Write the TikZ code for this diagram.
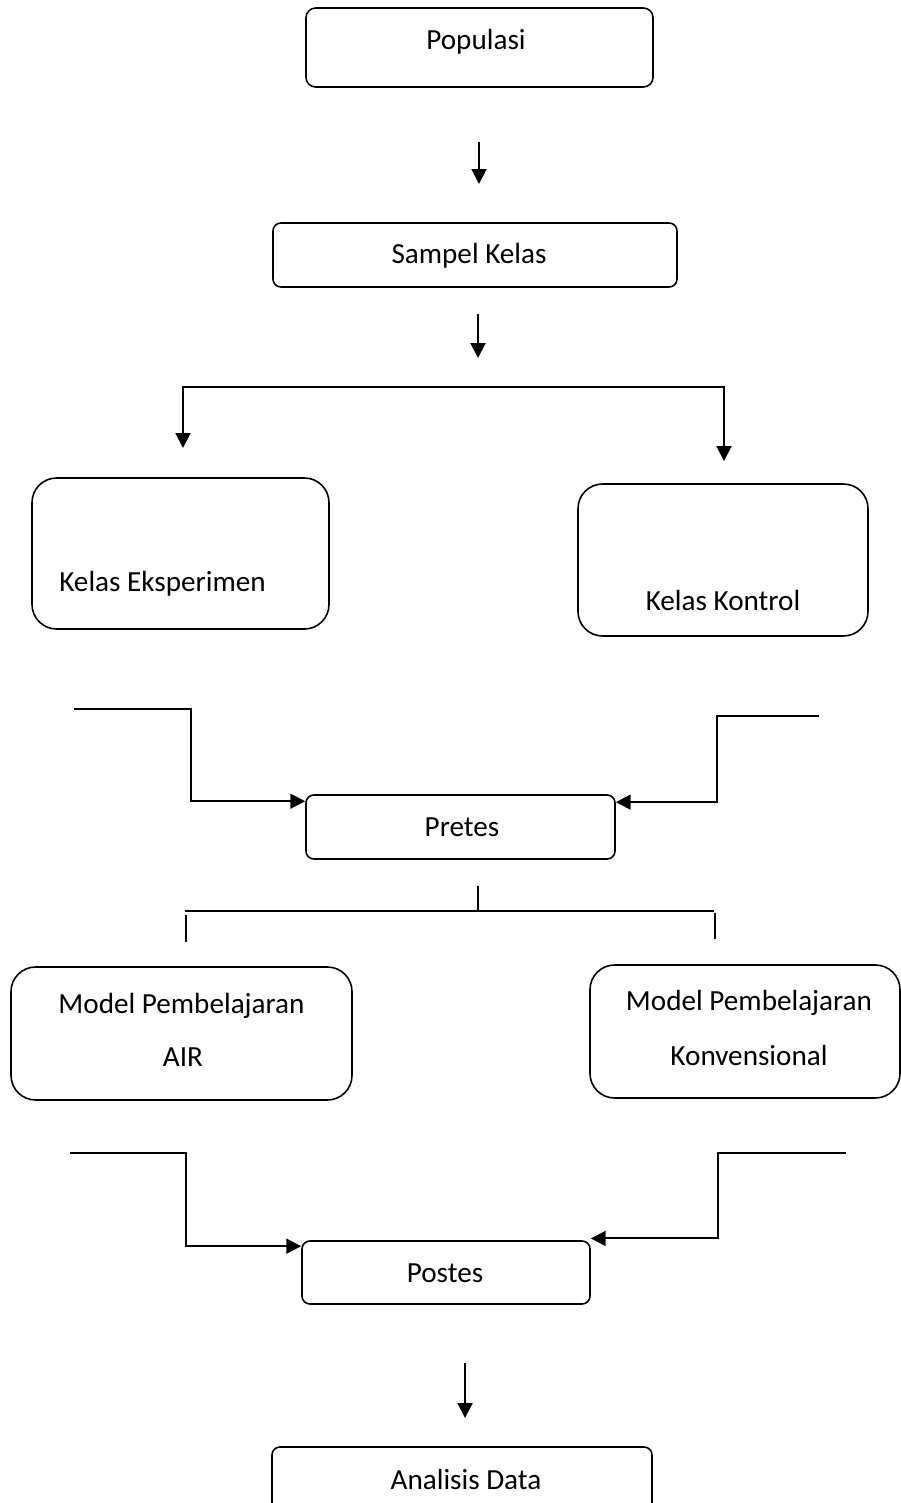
\documentclass[tikz,border=0pt]{standalone}
\usepackage{fontspec}
\setmainfont{Carlito}
\usetikzlibrary{arrows.meta}

\newcommand{\px}{0.02cm}

\tikzset{
  box/.style 2 args={draw, line width=0.9pt, rounded corners=4.5pt, inner sep=0pt,
    minimum width=#1*\px, minimum height=#2*\px},
  lbl/.style={anchor=base, inner sep=0pt, font=\fontsize{16.6}{19}\selectfont},
  conn/.style={line width=1.15pt},
  tick/.style={line width=0.75pt},
  >={Triangle[length=8.5pt,width=8.5pt]}
}

\begin{document}
\begin{tikzpicture}[x=0.02cm, y=-0.02cm]
  \useasboundingbox (0,0) rectangle (901,1503);

  % boxes
  \node[box={347}{79}, rounded corners=5.5pt] (pop) at (479.5,47.5) {};
  \node[box={404}{64}] (samp) at (475,255) {};
  \node[box={297}{151}, rounded corners=14pt] (eks) at (180.5,553.5) {};
  \node[box={290}{152}, rounded corners=14pt] (kon) at (723,560) {};
  \node[box={309}{64}] (pre) at (460.5,827) {};
  \node[box={341}{133}, rounded corners=14pt] (air) at (181.5,1033.5) {};
  \node[box={310}{133}, rounded corners=14pt] (konv) at (745,1031.5) {};
  \node[box={288}{63}] (post) at (446,1272.5) {};
  \node[box={380}{73}] (anl) at (462,1483.5) {};

  % texts
  \node[lbl] (popt) at (476,50) {Populasi};
  \node[lbl] (sampt) at (469,264) {Sampel Kelas};
  \node[lbl, anchor=base west] (ekst) at (59,591) {Kelas Eksperimen};
  \node[lbl] (kont) at (723,610) {Kelas Kontrol};
  \node[lbl] (pret) at (462,836) {Pretes};
  \node[lbl] (airt) at (181.5,1013) {Model Pembelajaran};
  \node[lbl] (airs) at (183,1066) {AIR};
  \node[lbl] (konvt) at (749,1010) {Model Pembelajaran};
  \node[lbl] (konvs) at (749,1065) {Konvensional};
  \node[lbl] (postt) at (445,1282) {Postes};
  \node[lbl] (anlt) at (466,1489) {Analisis Data};

  % free ends
  \coordinate (a1) at (479,142);
  \coordinate (a2) at (479,184);
  \coordinate (b1) at (478,314);
  \coordinate (b2) at (478,358);
  \coordinate (ke) at (183,448);
  \coordinate (kk) at (724,461);
  \coordinate (pl) at (74,709);
  \coordinate (pr) at (819,716);
  \coordinate (t0) at (478,886);
  \coordinate (t1) at (478,911);
  \coordinate (hl) at (185,911);
  \coordinate (hr) at (714,911);
  \coordinate (sl) at (186,915);
  \coordinate (sl2) at (186,942);
  \coordinate (sr) at (715,913);
  \coordinate (sr2) at (715,939);
  \coordinate (ql) at (70,1153);
  \coordinate (qr) at (846,1153);
  \coordinate (c1) at (465,1363);
  \coordinate (c2) at (465,1418);

  % connectors
  \draw[conn, ->] (a1) -- (a2);
  \draw[conn, ->] (b1) -- (b2);
  \draw[conn, <->] (ke) -- (183,387) -- (724,387) -- (kk);
  \draw[conn, ->] (pl) -- ++(117,0) |- ([yshift=-4pt]pre.north west);
  \draw[conn, ->] (pr) -- ++(-102,0) |- ([yshift=-4.5pt]pre.north east);
  \draw[tick] (t0) -- (t1);
  \draw[tick] (hl) -- (hr);
  \draw[tick] (sl) -- (sl2);
  \draw[tick] (sr) -- (sr2);
  \draw[conn, ->] (ql) -- ++(116,0) |- ([yshift=-3.4pt]post.north west);
  \draw[conn, ->] (qr) -- ++(-128,0) |- ([yshift=1pt]post.north east);
  \draw[conn, ->] (c1) -- (c2);
\end{tikzpicture}
\end{document}
